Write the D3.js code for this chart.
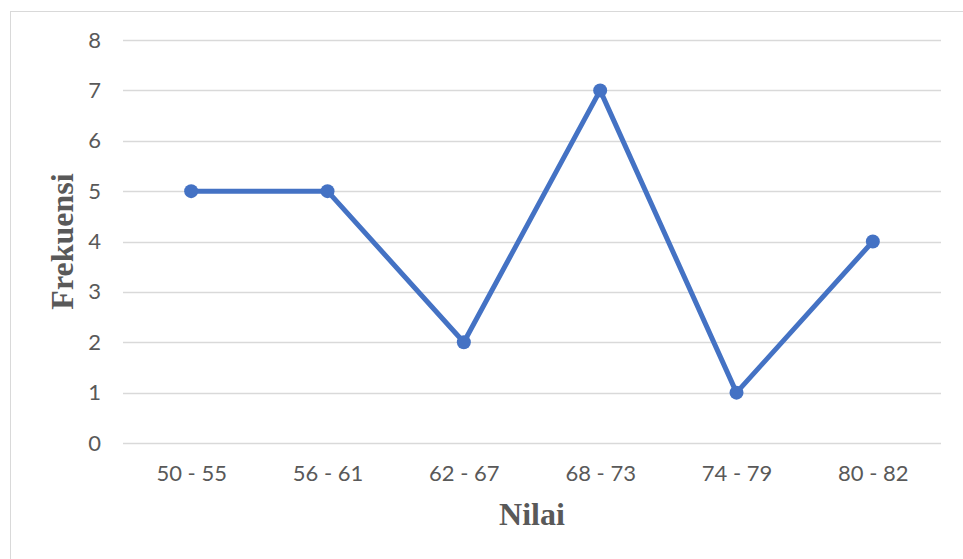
<!DOCTYPE html>
<html>
<head>
<meta charset="utf-8">
<script src="https://cdn.jsdelivr.net/npm/d3@7"></script>
<style>
  html, body { margin: 0; padding: 0; background: #fff; }
  svg { display: block; }
</style>
</head>
<body>
<svg id="chart" width="963" height="559"></svg>
<script>
// Frequency of score intervals
const categories = ["50 - 55", "56 - 61", "62 - 67", "68 - 73", "74 - 79", "80 - 82"];
const frekuensi = [5, 5, 2, 7, 1, 4];
const yTicks = [0, 1, 2, 3, 4, 5, 6, 7, 8];

const svg = d3.select("#chart");
const W = 963, H = 559;
const plot = { left: 123, right: 941, top: 40, bottom: 443 };

// Outer chart frame (continues past the right and bottom edges)
svg.append("rect")
  .attr("x", 10.5).attr("y", 11.5)
  .attr("width", W + 20).attr("height", H + 20)
  .attr("fill", "#fff").attr("stroke", "#d9d9d9").attr("stroke-width", 1);

const x = d3.scalePoint().domain(categories).range([plot.left, plot.right]).padding(0.5);
const y = d3.scaleLinear().domain([0, 8]).range([plot.bottom, plot.top]);

// Horizontal gridlines
svg.append("g").selectAll("line").data(yTicks).join("line")
  .attr("x1", plot.left).attr("x2", plot.right)
  .attr("y1", d => Math.round(y(d)) + 0.5).attr("y2", d => Math.round(y(d)) + 0.5)
  .attr("stroke", "#d9d9d9").attr("stroke-width", 1.5);

// Y axis labels
const yAxis = d3.axisLeft(y).tickValues(yTicks).tickSize(0).tickPadding(0);
const gy = svg.append("g").attr("transform", `translate(${plot.left - 22},0)`).call(yAxis);
gy.select(".domain").remove();
gy.selectAll("text")
  .attr("font-family", "Lato, 'Open Sans', sans-serif")
  .attr("font-size", 22).attr("fill", "#595959");

// X axis labels
const xAxis = d3.axisBottom(x).tickSize(0).tickPadding(0);
const gx = svg.append("g").attr("transform", `translate(0,${plot.bottom + 22})`).call(xAxis);
gx.select(".domain").remove();
gx.selectAll("text")
  .attr("font-family", "Lato, 'Open Sans', sans-serif")
  .attr("font-size", 22).attr("fill", "#595959");

// Series line
const line = d3.line().x((d, i) => x(categories[i])).y(d => y(d));
svg.append("path").datum(frekuensi)
  .attr("d", line)
  .attr("fill", "none").attr("stroke", "#4472C4")
  .attr("stroke-width", 5).attr("stroke-linejoin", "round").attr("stroke-linecap", "round");

// Markers
svg.append("g").selectAll("circle").data(frekuensi).join("circle")
  .attr("cx", (d, i) => x(categories[i])).attr("cy", d => y(d))
  .attr("r", 7).attr("fill", "#4472C4");

// Axis titles
svg.append("text")
  .attr("x", (plot.left + plot.right) / 2).attr("y", 525)
  .attr("text-anchor", "middle")
  .attr("font-family", "'Liberation Serif', 'Times New Roman', serif")
  .attr("font-weight", "bold").attr("font-size", 32).attr("fill", "#595959")
  .text("Nilai");

svg.append("text")
  .attr("transform", `translate(73,${(plot.top + plot.bottom) / 2}) rotate(-90)`)
  .attr("text-anchor", "middle")
  .attr("font-family", "'Liberation Serif', 'Times New Roman', serif")
  .attr("font-weight", "bold").attr("font-size", 32).attr("fill", "#595959")
  .text("Frekuensi");
</script>
</body>
</html>
